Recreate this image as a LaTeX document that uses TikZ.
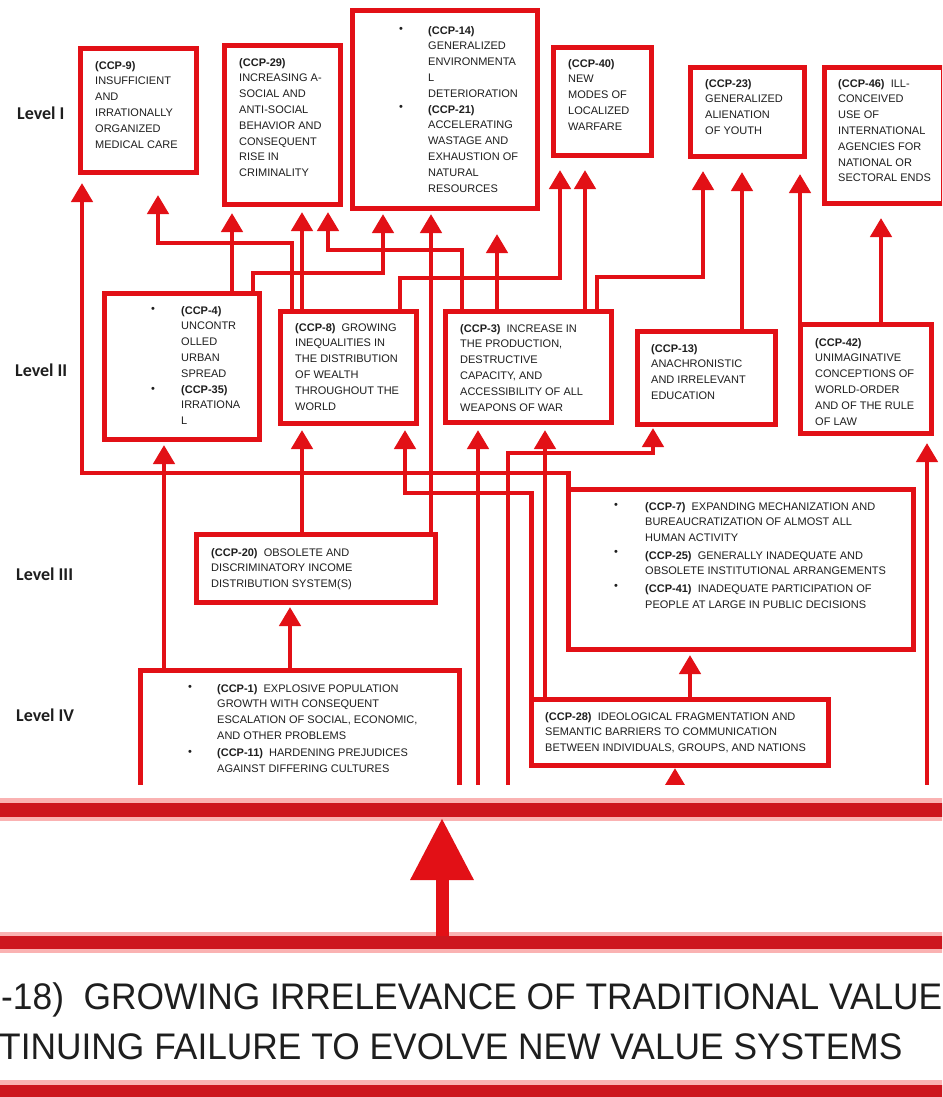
\documentclass[tikz,border=0pt]{standalone}
\usepackage{fontspec}
\setmainfont{Liberation Sans}
\newfontfamily\labelfont{Carlito}
\newfontfamily\bigfont[FakeStretch=0.955]{Liberation Sans}
\usetikzlibrary{arrows.meta}
\definecolor{ccpred}{RGB}{226,16,22}
\definecolor{bandred}{RGB}{205,22,30}
\definecolor{fringe}{RGB}{250,178,178}
\definecolor{ink}{RGB}{30,30,30}

\begin{document}
\begin{tikzpicture}[x=1pt,y=-1pt,
  box/.style={draw=ccpred, line width=5pt, fill=white, inner sep=0pt, rectangle},
  txt/.style={anchor=north west, inner sep=0pt, align=left, text=ink,
              font=\fontsize{11}{15.8}\selectfont},
  bul/.style={inner sep=0pt, text=ink, font=\fontsize{11}{15.8}\selectfont},
  lvl/.style={anchor=west, inner sep=0pt, text=ink,
              font=\labelfont\bfseries\fontsize{18}{20}\selectfont},
  conn/.style={draw=ccpred, line width=4.5pt,
               -{Triangle[length=19pt,width=21pt]}, shorten >=#1},
  conn/.default=4pt,
  band/.style={fill=bandred, inner sep=0pt, outer sep=0pt, minimum width=960pt},
  bigarrow/.style={draw=ccpred, line width=13pt,
                   -{Triangle[length=62pt,width=60pt]}, shorten >=1pt},
  bigtext/.style={anchor=base west, inner sep=0pt, text=ink,
                  font=\bigfont\fontsize{37}{50}\selectfont},
]
\useasboundingbox (0,0) rectangle (942,1097);
\clip (0,0) rectangle (942,1097);

% ---------------- upper chart ----------------
\begin{scope}
\clip (0,0) rectangle (942,784);

% level labels
\node[lvl] (lv1) at (17,113) {Level I};
\node[lvl] (lv2) at (15,370) {Level II};
\node[lvl] (lv3) at (16,574) {Level III};
\node[lvl] (lv4) at (16,715) {Level IV};

% boxes (outer edges give the anchors)
\node[box, minimum width=116pt, minimum height=124pt] (b9)  at (138.5,110.5) {};
\node[box, minimum width=116pt, minimum height=159pt] (b29) at (282.5,125)   {};
\node[box, minimum width=185pt, minimum height=198pt] (b14) at (445,109.5)   {};
\node[box, minimum width=98pt,  minimum height=108pt] (b40) at (602.5,101.5) {};
\node[box, minimum width=114pt, minimum height=89pt]  (b23) at (747.5,112)   {};
\node[box, minimum width=119pt, minimum height=136pt] (b46) at (884,135.5)   {};
\node[box, minimum width=155pt, minimum height=146pt] (b4)  at (182,366.5)   {};
\node[box, minimum width=136pt, minimum height=112pt] (b8)  at (348.5,367.5) {};
\node[box, minimum width=166pt, minimum height=111pt] (b3)  at (528.5,367)   {};
\node[box, minimum width=138pt, minimum height=93pt]  (b13) at (706.5,378)   {};
\node[box, minimum width=131pt, minimum height=109pt] (b42) at (866,379)     {};
\node[box, minimum width=345pt, minimum height=160pt] (b7)  at (741,569.5)   {};
\node[box, minimum width=239pt, minimum height=68pt]  (b20) at (316,568.5)   {};
\node[box, minimum width=319pt, minimum height=227pt] (b1)  at (300,784)     {};
\node[box, minimum width=297pt, minimum height=66pt]  (b28) at (680,732.5)   {};

% free ends of the links that come up from CCP-18
\coordinate (s18a) at (478,795);
\coordinate (s18b) at (508,795);
\coordinate (s18c) at (927,795);
\coordinate (s18d) at (675,795);

% links
\draw[conn=8pt]  ([xshift=2.5pt]b7.north west) |- (82,473) -- (82,0 |- b9.south);
\draw[conn=20pt] (292,0 |- b8.north) |- (158,243) -- (158,0 |- b9.south);
\draw[conn=5pt]  (302,0 |- b8.north) -- (302,0 |- b29.south);
\draw[conn=6pt]  (232,0 |- b4.north) -- (232,0 |- b29.south);
\draw[conn=5pt]  (462,0 |- b3.north) |- (328,250) -- (328,0 |- b29.south);
\draw[conn=3pt]  (253,0 |- b4.north) |- (383,273) -- (383,0 |- b14.south);
\draw[conn=3pt]  (431,0 |- b20.north) -- (431,0 |- b14.south);
\draw[conn=23pt] (497,0 |- b3.north) -- (497,0 |- b14.south);
\draw[conn=12pt] (400,0 |- b8.north) |- (560,278) -- (560,0 |- b40.south);
\draw[conn=12pt] (585,0 |- b3.north) -- (585,0 |- b40.south);
\draw[conn=12pt] (597,0 |- b3.north) |- (703,277) -- (703,0 |- b23.south);
\draw[conn=13pt] (742,0 |- b13.north) -- (742,0 |- b23.south);
\draw[conn=15pt] (800,0 |- b42.north) -- (800,0 |- b23.south);
\draw[conn=12pt] (881,0 |- b42.north) -- (881,0 |- b46.south);
\draw[conn=3pt]  (164,0 |- b1.north) -- (164,0 |- b4.south);
\draw[conn=4pt]  (302,0 |- b20.north) -- (302,0 |- b8.south);
\draw[conn=4pt]  ([xshift=2.5pt]b28.north west) |- (405,493) -- (405,0 |- b8.south);
\draw[conn=5pt]  (545,0 |- b28.north) -- (545,0 |- b3.south);
\draw[conn=3pt]  (690,0 |- b28.north) -- (690,0 |- b7.south);
\draw[conn=2pt]  (290,0 |- b1.north) -- (290,0 |- b20.south);
\draw[conn=5pt]  (s18a) -- (478,0 |- b3.south);
\draw[conn=1pt]  (s18b) |- (653,453) -- (653,0 |- b13.south);
\draw[conn=7pt]  (s18c) -- (927,0 |- b42.south);
\draw[conn=0pt]  (s18d) -- (675,0 |- b28.south);

% box texts
\node[txt] (t9) at (95,61) {\textbf{(CCP-9)}\\INSUFFICIENT\\AND\\IRRATIONALLY\\ORGANIZED\\MEDICAL CARE};
\node[txt] (t29) at (239,58) {\textbf{(CCP-29)}\\INCREASING A-\\SOCIAL AND\\ANTI-SOCIAL\\BEHAVIOR AND\\CONSEQUENT\\RISE IN\\CRIMINALITY};
\node[txt] (t14) at (428,26) {\textbf{(CCP-14)}\\GENERALIZED\\ENVIRONMENTA\\L\\DETERIORATION\\\textbf{(CCP-21)}\\ACCELERATING\\WASTAGE AND\\EXHAUSTION OF\\NATURAL\\RESOURCES};
\node[bul] (u14a) at (401,30) {\textbullet};
\node[bul] (u14b) at (401,108) {\textbullet};
\node[txt] (t40) at (568,59) {\textbf{(CCP-40)}\\NEW\\MODES OF\\LOCALIZED\\WARFARE};
\node[txt] (t23) at (705,79) {\textbf{(CCP-23)}\\GENERALIZED\\ALIENATION\\OF YOUTH};
\node[txt] (t46) at (838,79) {\textbf{(CCP-46)}\ \ ILL-\\CONCEIVED\\USE OF\\INTERNATIONAL\\AGENCIES FOR\\NATIONAL OR\\SECTORAL ENDS};
\node[txt] (t4) at (181,306) {\textbf{(CCP-4)}\\UNCONTR\\OLLED\\URBAN\\SPREAD\\\textbf{(CCP-35)}\\IRRATIONA\\L};
\node[bul] (u4a) at (153,310) {\textbullet};
\node[bul] (u4b) at (153,390) {\textbullet};
\node[txt] (t8) at (295,323) {\textbf{(CCP-8)}\ \ GROWING\\INEQUALITIES IN\\THE DISTRIBUTION\\OF WEALTH\\THROUGHOUT THE\\WORLD};
\node[txt] (t3) at (460,324) {\textbf{(CCP-3)}\ \ INCREASE IN\\THE PRODUCTION,\\DESTRUCTIVE\\CAPACITY, AND\\ACCESSIBILITY OF ALL\\WEAPONS OF WAR};
\node[txt] (t13) at (651,344) {\textbf{(CCP-13)}\\ANACHRONISTIC\\AND IRRELEVANT\\EDUCATION};
\node[txt] (t42) at (815,338) {\textbf{(CCP-42)}\\UNIMAGINATIVE\\CONCEPTIONS OF\\WORLD-ORDER\\AND OF THE RULE\\OF LAW};
\node[txt] (t7) at (645,502) {\textbf{(CCP-7)}\ \ EXPANDING MECHANIZATION AND\\BUREAUCRATIZATION OF ALMOST ALL\\HUMAN ACTIVITY\\[1.5pt]\textbf{(CCP-25)}\ \ GENERALLY INADEQUATE AND\\OBSOLETE INSTITUTIONAL ARRANGEMENTS\\[2pt]\textbf{(CCP-41)}\ \ INADEQUATE PARTICIPATION OF\\PEOPLE AT LARGE IN PUBLIC DECISIONS};
\node[bul] (u7a) at (616,506) {\textbullet};
\node[bul] (u7b) at (616,553) {\textbullet};
\node[bul] (u7c) at (616,587) {\textbullet};
\node[txt] (t20) at (211,548) {\textbf{(CCP-20)}\ \ OBSOLETE AND\\DISCRIMINATORY INCOME\\DISTRIBUTION SYSTEM(S)};
\node[txt] (t1) at (217,684) {\textbf{(CCP-1)}\ \ EXPLOSIVE POPULATION\\GROWTH WITH CONSEQUENT\\ESCALATION OF SOCIAL, ECONOMIC,\\AND OTHER PROBLEMS\\[1.5pt]\textbf{(CCP-11)}\ \ HARDENING PREJUDICES\\AGAINST DIFFERING CULTURES};
\node[bul] (u1a) at (190,688) {\textbullet};
\node[bul] (u1b) at (190,753) {\textbullet};
\node[txt] (t28) at (545,712) {\textbf{(CCP-28)}\ \ IDEOLOGICAL FRAGMENTATION AND\\SEMANTIC BARRIERS TO COMMUNICATION\\BETWEEN INDIVIDUALS, GROUPS, AND NATIONS};
\end{scope}

% ---------------- enlarged detail below ----------------
\fill[fringe] (-5,798) rectangle (947,821);
\node[band, minimum height=14pt] (topband) at (471,810) {};
\fill[fringe] (-5,932) rectangle (947,953);
\node[band, minimum height=13pt] (midband) at (471,942.5) {};
\fill[fringe] (-5,1080) rectangle (947,1100);
\node[band, minimum height=14pt] (botband) at (471,1092) {};

\draw[bigarrow] (442,0 |- midband.north) -- (442,0 |- topband.south);

\node[bigtext] (t18a) at (1,1009) {-18)\ \ GROWING IRRELEVANCE OF TRADITIONAL VALUE};
\node[bigtext] (t18b) at (-1,1059) {TINUING FAILURE TO EVOLVE NEW VALUE SYSTEMS};
\end{tikzpicture}
\end{document}
